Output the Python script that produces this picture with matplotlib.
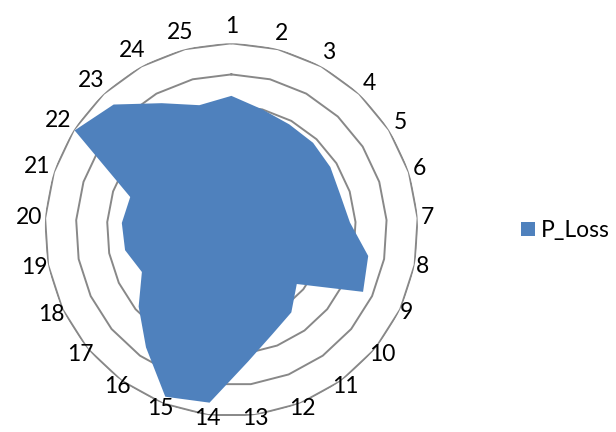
import numpy as np
import matplotlib
matplotlib.use('Agg')
import matplotlib.pyplot as plt
from matplotlib.patches import Patch

categories = [str(i) for i in range(1, 26)]
p_loss = [4.31, 4.00, 3.87, 3.84, 3.77, 3.68, 3.82, 4.48, 4.68, 2.73,
          3.28, 3.60, 4.27, 5.60, 5.77, 4.67, 3.87, 3.18, 3.48, 3.53,
          3.42, 5.97, 5.53, 4.65, 4.14]
ring_levels = [1, 2, 3, 4, 5, 6]
series_name = 'P_Loss'

plt.rcParams['font.family'] = ['Lato', 'DejaVu Sans']

fill_color = '#4F81BD'
grid_color = '#888888'
fs = 16.5

fig = plt.figure(figsize=(6.16, 4.32), dpi=100)
ax = fig.add_axes([0.0727, 0.0359, 0.6058, 0.8639], projection='polar')
ax.set_theta_zero_location('N')
ax.set_theta_direction(-1)

n = len(categories)
theta = np.arange(n) * 2 * np.pi / n
theta_closed = np.append(theta, theta[0])

for lv in ring_levels:
    ax.plot(theta_closed, [lv] * (n + 1), color=grid_color, lw=1.4, zorder=1)

vals = np.append(p_loss, p_loss[0])
ax.fill(theta_closed, vals, color=fill_color, lw=0, zorder=2)

rmax = max(ring_levels)
ax.set_ylim(0, rmax)
ax.set_xticks([])
ax.set_yticks([])
ax.grid(False)
ax.spines['polar'].set_visible(False)
ax.patch.set_visible(False)

# label distance: outer ring + gap, further for wide labels at the sides,
# and the whole ring of labels nudged slightly upward
px_per_unit = 186.6 / rmax
for t, lab in zip(theta, categories):
    r_px = 196 + 6 * (len(lab) - 1) * abs(np.sin(t)) + 7 * np.cos(t)
    ax.text(t, r_px / px_per_unit, lab, ha='center', va='center',
            fontsize=fs, color='black')

fig.legend(handles=[Patch(facecolor=fill_color, edgecolor='none', label=series_name)],
           loc='center left', bbox_to_anchor=(0.8453, 0.4664), frameon=False,
           fontsize=fs, handlelength=0.61, handleheight=0.61, handletextpad=0.29,
           borderpad=0, borderaxespad=0)

fig.savefig('out.png', dpi=100)
